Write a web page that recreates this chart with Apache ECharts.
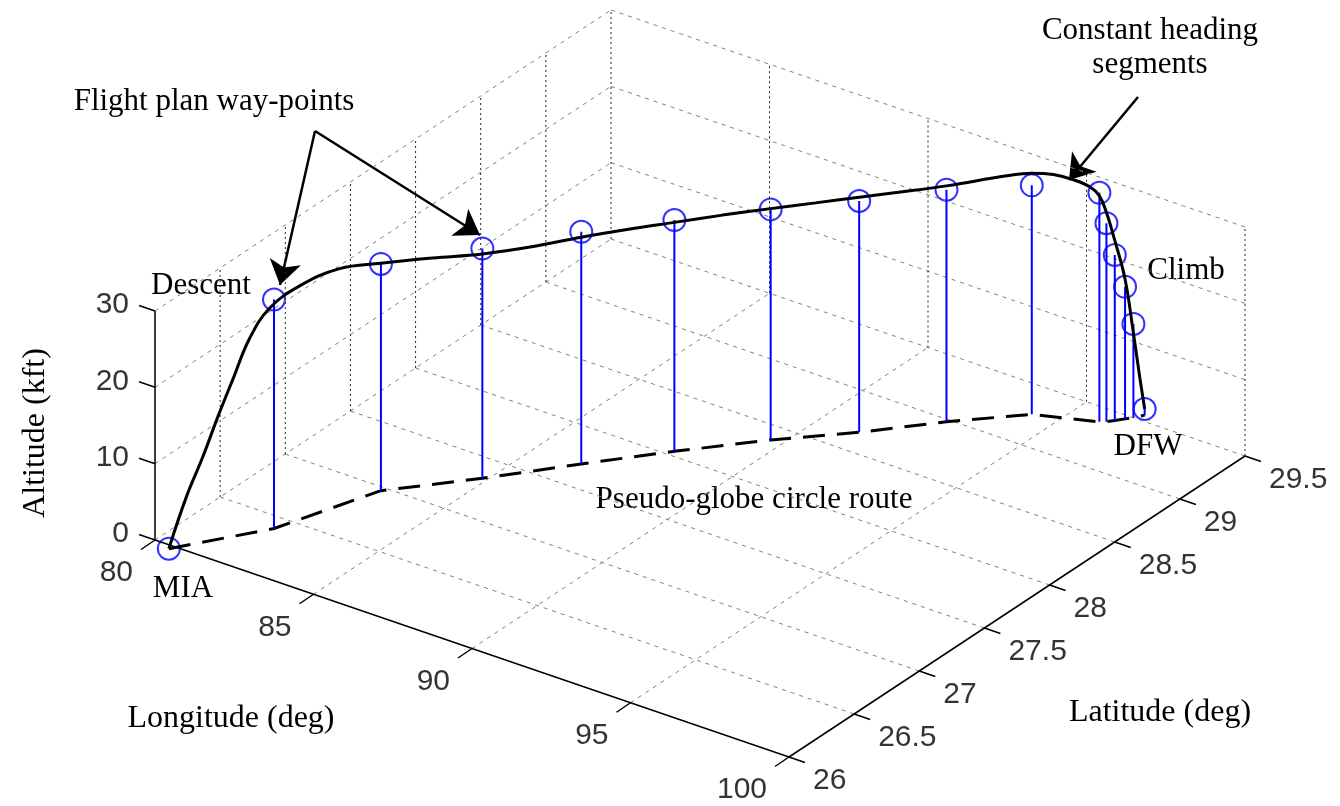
<!DOCTYPE html>
<html lang="en">
<head>
<meta charset="utf-8" />
<title>Flight trajectory MIA - DFW</title>
<script src="https://cdn.jsdelivr.net/npm/echarts@6/dist/echarts.min.js"></script>
<style>html,body{margin:0;padding:0;background:#fff;}</style>
</head>
<body>
<div id="box" style="width:1340px;height:806px"></div>
<script>
// tick values of the three axes
var lonTicks = [80, 85, 90, 95, 100];
var latTicks = [26, 26.5, 27, 27.5, 28, 28.5, 29, 29.5];
var altTicks = [0, 10, 20, 30];

// flight plan way-points: MIA, cruise points, climb cluster, DFW
var wpLon = [80.56, 82.11, 83.14, 84.86, 86.46, 88.00, 89.64, 91.24, 92.72, 94.26, 95.90, 96.04, 96.18, 96.34, 96.48, 96.63];
var wpLat = [25.97, 26.40, 26.97, 27.33, 27.70, 28.04, 28.38, 28.67, 28.98, 29.26, 29.38, 29.40, 29.43, 29.47, 29.50, 29.55];
var wpAlt = [0, 30.0, 29.7, 30.1, 30.4, 30.3, 30.2, 30.3, 30.4, 30.0, 30.0, 26.0, 21.7, 17.3, 12.3, 0.8];

// flown trajectory (black curve)
var trLon = [80.56, 80.82, 81.06, 81.28, 81.51, 81.75, 82.05, 82.36, 82.74, 83.14, 84.02, 84.86, 85.68, 86.46, 87.31, 88.00, 88.82, 89.64, 90.44, 91.24, 91.90, 92.72, 93.80, 94.26, 94.78, 95.27, 95.68, 95.90, 96.04, 96.18, 96.34, 96.48, 96.56, 96.63];
var trLat = [25.97, 26.04, 26.11, 26.17, 26.23, 26.30, 26.38, 26.54, 26.75, 26.97, 27.15, 27.33, 27.52, 27.70, 27.89, 28.04, 28.21, 28.38, 28.53, 28.67, 28.81, 28.98, 29.18, 29.26, 29.30, 29.33, 29.36, 29.38, 29.40, 29.43, 29.47, 29.50, 29.53, 29.55];
var trAlt = [0, 6.3, 11.2, 16.0, 20.6, 25.5, 29.0, 30.6, 31.0, 29.8, 29.7, 29.4, 29.4, 29.7, 29.9, 30.0, 30.2, 30.3, 30.5, 30.8, 30.8, 30.9, 31.5, 31.6, 31.7, 31.4, 30.7, 29.6, 27.4, 23.6, 18.3, 11.1, 5.0, 0.8];

// 3d box -> screen (orthographic view)
var O = [155, 540];
var EX = [634, 217];    // lon 80 -> 100
var EY = [456, -301];   // lat 26 -> 29.5
var EZ = 229 / 30;      // px per kft
function proj(lon, lat, alt) {
    var a = (lon - 80) / 20, b = (lat - 26) / 3.5;
    return [O[0] + a * EX[0] + b * EY[0], O[1] + a * EX[1] + b * EY[1] - alt * EZ];
}
// a 2-point segment as a line-series chunk ('-' splits the chunks)
function pushSeg(arr, p, q) { arr.push([p[0], p[1]], [q[0], q[1]], '-'); }
function add(p, d) { return [p[0] + d[0], p[1] + d[1]]; }

// grid lines
var slanted = [], verticals = [];
lonTicks.forEach(function (lon) {
    if (lon < 100) pushSeg(slanted, proj(lon, 26, 0), proj(lon, 29.5, 0));
    pushSeg(verticals, proj(lon, 29.5, 0), proj(lon, 29.5, 30));
});
latTicks.forEach(function (lat) {
    if (lat > 26) pushSeg(slanted, proj(80, lat, 0), proj(100, lat, 0));
    if (lat > 26 && lat < 29.5) pushSeg(verticals, proj(80, lat, 0), proj(80, lat, 30));
});
altTicks.forEach(function (z) {
    if (z > 0) {
        pushSeg(slanted, proj(80, 26, z), proj(80, 29.5, z));
        pushSeg(slanted, proj(80, 29.5, z), proj(100, 29.5, z));
    }
});

// axes and ticks
var axisLines = [];
pushSeg(axisLines, proj(80, 26, 0), proj(80, 26, 30));
pushSeg(axisLines, proj(80, 26, 0), proj(100, 26, 0));
pushSeg(axisLines, proj(100, 26, 0), proj(100, 29.5, 0));
var labL = [], labR = [];
altTicks.forEach(function (z) {
    var p = proj(80, 26, z);
    pushSeg(axisLines, p, add(p, [-16, -5.5]));
    labR.push({ value: add(p, [-26, -6]), name: String(z) });
});
lonTicks.forEach(function (lon) {
    var p = proj(lon, 26, 0);
    pushSeg(axisLines, p, add(p, [-14, 9.5]));
    labR.push({ value: add(p, [-22, 33]), name: String(lon) });
});
latTicks.forEach(function (lat) {
    var p = proj(100, lat, 0);
    pushSeg(axisLines, p, add(p, [16, 5.5]));
    labL.push({ value: add(p, [24, 24]), name: String(lat) });
});

// way-points, stems, ground route, trajectory
var wpPts = [], groundPts = [], stems = [];
for (var i = 0; i < wpLon.length; i++) {
    var pTop = proj(wpLon[i], wpLat[i], wpAlt[i]);
    var pBot = proj(wpLon[i], wpLat[i], 0);
    wpPts.push(pTop);
    groundPts.push(pBot);
    if (wpAlt[i] > 0) pushSeg(stems, pBot, pTop);
}
var trPts = [];
for (var j = 0; j < trLon.length; j++) trPts.push(proj(trLon[j], trLat[j], trAlt[j]));

var serif = 'Liberation Serif';
var sans = 'Liberation Sans';
var arrows = [
    { coords: [[315, 131], [280, 285]] },
    { coords: [[315, 131], [480, 235]] },
    { coords: [[1138, 97], [1069, 180]] }
];

function txt(x, y, s, size, rot) {
    return { type: 'text', x: x, y: y, rotation: rot || 0, silent: true,
        style: { text: s, fontFamily: serif, fontSize: size, fill: '#000', align: 'center', verticalAlign: 'middle', lineHeight: 34 } };
}
function segSeries(data, color, width, dash) {
    return { type: 'line', data: data, symbol: 'none', silent: true, connectNulls: false,
        lineStyle: { color: color, width: width, type: dash || 'solid' } };
}
function labelSeries(data, align) {
    return { type: 'scatter', symbolSize: 1, silent: true, data: data,
        itemStyle: { color: 'rgba(0,0,0,0)' },
        label: { show: true, position: 'inside', formatter: '{b}', align: align, verticalAlign: 'middle',
            fontFamily: sans, fontSize: 30, color: '#000' } };
}

var myChart = echarts.init(document.getElementById('box'));
var option = {
    animation: false,
    backgroundColor: '#fff',
    grid: { left: 0, right: 0, top: 0, bottom: 0 },
    xAxis: { type: 'value', min: 0, max: 1340, show: false },
    yAxis: { type: 'value', min: 0, max: 806, inverse: true, show: false },
    series: [
        segSeries(slanted, '#808080', 1, [4, 5]),
        segSeries(verticals, '#222', 1, [2, 3]),
        segSeries(axisLines, '#000', 1.5),
        labelSeries(labR, 'right'),
        labelSeries(labL, 'left'),
        segSeries(groundPts, '#000', 3, [22, 12]),
        segSeries(stems, '#0000ff', 2),
        {   // way-point markers
            type: 'scatter', data: wpPts, symbol: 'circle', symbolSize: 22, silent: true,
            itemStyle: { color: 'rgba(0,0,0,0)', borderColor: '#0000ff', borderWidth: 2 }
        },
        {   // flown trajectory
            type: 'line', data: trPts, symbol: 'none', smooth: 0.4, silent: true,
            lineStyle: { color: '#000', width: 3 }
        },
        {   // annotation arrows
            type: 'lines', coordinateSystem: 'cartesian2d', silent: true,
            symbol: ['none', 'arrow'], symbolSize: 24,
            lineStyle: { color: '#000', width: 2.5, opacity: 1 },
            data: arrows
        }
    ],
    graphic: [
        txt(214, 102, 'Flight plan way-points', 31),
        txt(1150, 48, 'Constant heading\nsegments', 31),
        txt(201, 286, 'Descent', 31),
        txt(1186, 271, 'Climb', 31),
        txt(1148, 447, 'DFW', 31),
        txt(183, 589, 'MIA', 31),
        txt(754, 500, 'Pseudo-globe circle route', 31),
        txt(231, 719, 'Longitude (deg)', 32),
        txt(1160, 713, 'Latitude (deg)', 32),
        txt(36, 433, 'Altitude (kft)', 32, Math.PI / 2)
    ]
};
myChart.setOption(option);
</script>
</body>
</html>
